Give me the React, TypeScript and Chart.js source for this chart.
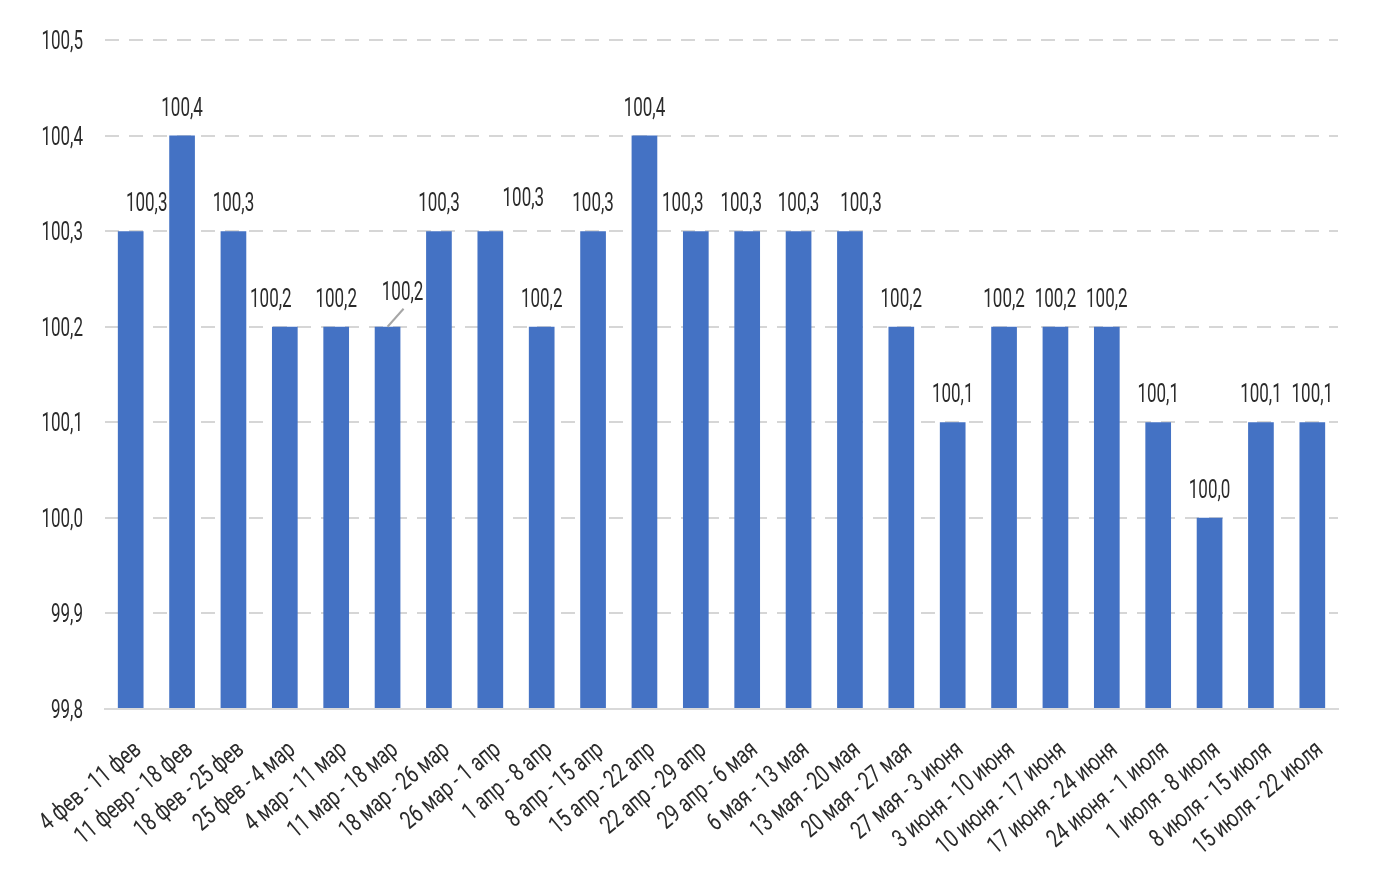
import React, { useEffect, useRef } from "react";
import { Chart, registerables } from "chart.js";

Chart.register(...registerables);

const categories: string[] = [
  "4 фев - 11 фев",
  "11 февр - 18 фев",
  "18 фев - 25 фев",
  "25 фев - 4 мар",
  "4 мар - 11 мар",
  "11 мар - 18 мар",
  "18 мар - 26 мар",
  "26 мар - 1 апр",
  "1 апр - 8 апр",
  "8 апр - 15 апр",
  "15 апр - 22 апр",
  "22 апр - 29 апр",
  "29 апр - 6 мая",
  "6 мая - 13 мая",
  "13 мая - 20 мая",
  "20 мая - 27 мая",
  "27 мая - 3 июня",
  "3 июня - 10 июня",
  "10 июня - 17 июня",
  "17 июня - 24 июня",
  "24 июня - 1 июля",
  "1 июля - 8 июля",
  "8 июля - 15 июля",
  "15 июля - 22 июля",
];

const values: number[] = [
  100.3, 100.4, 100.3, 100.2, 100.2, 100.2, 100.3, 100.3, 100.2, 100.3, 100.4, 100.3,
  100.3, 100.3, 100.3, 100.2, 100.1, 100.2, 100.2, 100.2, 100.1, 100.0, 100.1, 100.1,
];

const yMin = 99.8;
const yMax = 100.5;
const yStep = 0.1;

const FONT_FAMILY = "Roboto, 'DejaVu Sans', sans-serif";
const FONT_SIZE = 25;
const SX = 0.68; // horizontal squeeze to mimic the condensed face
const SX_X = 0.75;
const CAP = 9; // half cap height
const TEXT = "#2b2b2b";
const ANGLE = (-40 * Math.PI) / 180;

// manually moved labels in the original: [dx, dy, leader line]
const labelNudge: Record<number, [number, number, boolean]> = {
  0: [16, 0, false],
  3: [-14, 0, false],
  5: [15, -7, true],
  7: [33, -5, false],
  11: [-13, 0, false],
  12: [-6, 0, false],
  14: [11, 0, false],
};

const fmt = (v: number) => v.toFixed(1).replace(".", ",");

function drawText(
  ctx: CanvasRenderingContext2D,
  text: string,
  x: number,
  y: number,
  align: CanvasTextAlign,
  angle: number,
  dy: number,
  sx: number
) {
  ctx.save();
  ctx.translate(x, y);
  if (angle) ctx.rotate(angle);
  ctx.scale(sx, 1);
  ctx.textAlign = align;
  ctx.textBaseline = "alphabetic";
  ctx.fillText(text, 0, dy);
  ctx.restore();
}

const textPlugin = {
  id: "textPlugin",
  afterDraw(chart: any) {
    const ctx: CanvasRenderingContext2D = chart.ctx;
    ctx.save();
    ctx.font = `${FONT_SIZE}px ${FONT_FAMILY}`;
    ctx.fillStyle = TEXT;

    // y axis tick labels
    const ys = chart.scales.y;
    ys.ticks.forEach((t: any) => {
      const py = ys.getPixelForValue(t.value);
      drawText(ctx, fmt(t.value), ys.right - 22, py, "right", 0, CAP, SX);
    });

    // x axis tick labels
    const xs = chart.scales.x;
    (chart.data.labels as string[]).forEach((lab, i) => {
      const px = xs.getPixelForTick(i);
      drawText(ctx, lab, px + 6, xs.top + 36, "right", ANGLE, CAP, SX_X);
    });

    // data labels
    const meta = chart.getDatasetMeta(0);
    meta.data.forEach((bar: any, i: number) => {
      const v = chart.data.datasets[0].data[i];
      const n = labelNudge[i] || [0, 0, false];
      const x = bar.x + n[0];
      const y = bar.y - 20 + n[1];
      if (n[2]) {
        ctx.save();
        ctx.strokeStyle = "#a6a6a6";
        ctx.lineWidth = 2;
        ctx.beginPath();
        ctx.moveTo(bar.x, bar.y);
        ctx.lineTo(x + 1, y + 9);
        ctx.stroke();
        ctx.restore();
      }
      drawText(ctx, fmt(v), x, y, "center", 0, 0, SX);
    });
    ctx.restore();
  },
};

export default function App() {
  const ref = useRef<HTMLCanvasElement | null>(null);
  useEffect(() => {
    if (!ref.current) return;
    const chart = new Chart(ref.current, {
      type: "bar",
      data: {
        labels: categories,
        datasets: [
          {
            data: values,
            backgroundColor: "#4472C4",
            base: yMin,
            barPercentage: 0.5,
            categoryPercentage: 1,
          } as any,
        ],
      },
      options: {
        animation: false,
        responsive: true,
        maintainAspectRatio: false,
        layout: { padding: { top: 40, right: 40, left: 0, bottom: 0 } },
        plugins: {
          legend: { display: false },
          tooltip: { enabled: false },
        },
        scales: {
          x: {
            grid: { display: false },
            border: { display: true, color: "#d9d9d9", width: 2 },
            ticks: { display: false, autoSkip: false },
            afterFit: (s: any) => {
              s.height = 163;
            },
          },
          y: {
            min: yMin,
            max: yMax,
            grid: {
              color: (c: any) => (c.index === 0 ? "rgba(0,0,0,0)" : "#d6d6d6"),
              lineWidth: 2,
              drawTicks: false,
            },
            border: { display: false, dash: [14, 10] },
            ticks: {
              display: false,
              stepSize: yStep,
            },
            afterFit: (s: any) => {
              s.width = 105;
            },
          },
        },
      },
      plugins: [textPlugin],
    });
    return () => chart.destroy();
  }, []);
  return (
    <div style={{ position: "fixed", left: 0, top: 0, width: 1378, height: 872, background: "#fff" }}>
      <canvas ref={ref} />
    </div>
  );
}
